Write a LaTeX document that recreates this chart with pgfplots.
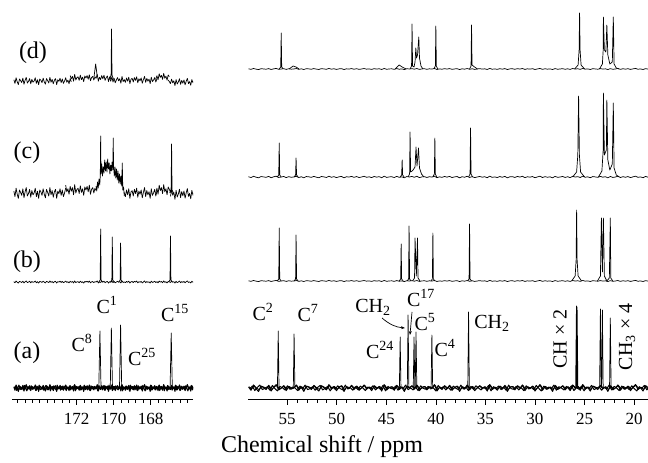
\documentclass[border=0pt]{standalone}
\usepackage{fontspec}
\setmainfont{Liberation Serif}
\usepackage{pgfplots}
\pgfplotsset{compat=1.18}
\usepackage{pgfplotstable}
\usetikzlibrary{arrows.meta}

% unit noise, read off the baselines by eye
\pgfplotstableread[row sep=\\]{
n\\ 0.3\\ -0.6\\ 0.8\\ -0.2\\ -0.9\\ 0.5\\ 0.1\\ -0.4\\ 0.7\\ -0.8\\
0.2\\ 0.9\\ -0.5\\ -0.1\\ 0.6\\ -0.7\\ 0.4\\ -0.3\\ 0.0\\ 0.8\\
-0.6\\ 0.3\\ -0.9\\ 0.5\\ 0.2\\ -0.4\\ 0.7\\ -0.2\\ -0.8\\ 0.6\\
0.1\\ -0.5\\ 0.9\\ -0.3\\ 0.4\\ -0.7\\ 0.2\\ 0.6\\ -0.9\\ 0.3\\
-0.1\\ 0.7\\ -0.4\\ 0.5\\ -0.6\\ 0.0\\ 0.8\\ -0.3\\ 0.2\\ -0.7\\
0.6\\ -0.2\\ 0.4\\ -0.8\\ 0.9\\ -0.5\\ 0.1\\ 0.3\\ -0.6\\ 0.7\\
-0.4\\ 0.2\\ -0.9\\ 0.5\\ 0.0\\ 0.6\\ -0.3\\ 0.8\\ -0.7\\ 0.1\\
0.4\\ -0.5\\ 0.3\\ -0.1\\ 0.9\\ -0.8\\ 0.2\\ -0.4\\ 0.6\\ -0.2\\
0.7\\ -0.6\\ 0.1\\ 0.5\\ -0.9\\ 0.3\\ -0.3\\ 0.8\\ -0.5\\ 0.4\\
-0.7\\ 0.0\\ 0.6\\ -0.2\\ 0.3\\ -0.8\\ 0.9\\ -0.4\\ 0.1\\ -0.6\\
0.5\\ -0.3\\ 0.7\\ -0.9\\ 0.2\\ 0.4\\ -0.5\\ 0.6\\ -0.1\\ 0.8\\
-0.7\\ 0.3\\ -0.2\\ 0.5\\ -0.8\\ 0.1\\ 0.9\\ -0.6\\ 0.4\\ -0.3\\
0.2\\ -0.9\\ 0.7\\ -0.4\\ 0.0\\ 0.6\\ -0.5\\ 0.3\\ -0.7\\ 0.8\\
-0.1\\ 0.4\\ -0.6\\ 0.9\\ -0.3\\ 0.2\\ -0.8\\ 0.5\\ 0.1\\ -0.4\\
0.7\\ -0.2\\ 0.3\\ -0.9\\ 0.6\\ -0.5\\ 0.0\\ 0.8\\ -0.6\\ 0.4\\
-0.3\\ 0.5\\ -0.7\\ 0.2\\ 0.9\\ -0.4\\ 0.1\\ -0.8\\ 0.6\\ -0.2\\
0.4\\ -0.5\\
}\noise

\pgfplotsset{
  spec/.style={black, line width=0.7pt, line join=round, unbounded coords=jump},
  nmr/.style={
    scale only axis, height=395pt, ymin=0, ymax=395,
    x dir=reverse, axis x line*=bottom, axis y line=none,
    axis line style={line width=1pt},
    tick align=outside, major tick length=5pt, minor tick length=3pt,
    tick style={black, line width=0.7pt},
    /pgf/number format/assume math mode=true,
    tick label style={font=\fontsize{17}{17}\selectfont},
    xticklabel style={yshift=-7pt, inner sep=1pt},
  },
}
\newcommand\lab{\fontsize{20}{20}\selectfont}
% noise traces: [options]{x start}{baseline}{amplitude}
\newcommand\Lnoise[4][]{\addplot[spec,#1] table[x index=0, y index=0,
  x expr=#2-0.061*\coordindex, y expr=#3+#4*(\thisrow{n})] {\noise};}
\newcommand\Rnoise[4][]{\addplot[spec,#1] table[x index=0, y index=0,
  x expr=#2-0.2535*\coordindex, y expr=#3+#4*(\thisrow{n})] {\noise};}

\begin{document}
\begin{tikzpicture}[x=1pt,y=1pt]
\path[use as bounding box] (0,0) rectangle (648,463);

% ---------------- carbonyl region ----------------
\begin{axis}[nmr, at={(12pt,63pt)}, anchor=south west, width=181pt,
  xmin=165.7, xmax=175.5, xtick={168,170,172},
  minor xtick={166.0,166.4,...,175.3}]
% (a)
\Lnoise[line width=1pt]{175.4}{12}{3.8}
\Lnoise[line width=1pt]{175.37}{12}{-3.2}
\Lnoise[line width=0.8pt]{175.385}{12.5}{2.5}
\addplot[spec] coordinates {(170.80,12)(170.74,69)(170.68,12)(170.6,nan)
  (170.18,12)(170.12,72)(170.06,12)(170.0,nan)
  (169.68,12)(169.62,75)(169.56,12)(169.5,nan)
  (166.94,12)(166.88,67)(166.82,12)};
% (b)
\Lnoise{175.4}{118}{1.2}
\addplot[spec] coordinates {(170.80,118)(170.725,120)(170.70,171)(170.675,120)(170.60,118)(170.6,nan)
  (170.17,118)(170.095,120)(170.07,163)(170.045,120)(169.97,118)(169.9,nan)
  (169.72,118)(169.645,120)(169.62,157)(169.595,120)(169.52,118)(169.5,nan)
  (167.02,118)(166.945,120)(166.92,164)(166.895,120)(166.82,118)};
% (c)
\Lnoise[restrict x to domain=172.55:176]{175.4}{207}{6}
\Lnoise[restrict x to domain=170.9:172.65]{175.4}{210}{6}
\addplot[spec] coordinates {(170.95,214)(170.91,209)(170.87,218)(170.83,212)
  (170.79,221)(170.75,215)(170.72,224)(170.70,264)(170.68,226)(170.64,236)
  (170.60,224)(170.56,233)(170.52,227)(170.48,240)(170.44,229)(170.40,238)
  (170.36,228)(170.32,241)(170.28,231)(170.24,237)(170.20,226)(170.16,235)
  (170.12,229)(170.08,238)(170.04,230)(170.02,262)(170.00,234)(169.96,224)
  (169.92,233)(169.88,222)(169.84,231)(169.80,220)(169.76,229)(169.72,217)
  (169.68,226)(169.64,216)(169.60,224)(169.56,214)(169.53,237)(169.50,210)
  (169.46,213)(169.42,204)};
\Lnoise[restrict x to domain=167.65:169.45]{175.4}{207}{6}
\Lnoise[restrict x to domain=166.85:167.75]{175.4}{210}{6}
\Lnoise[restrict x to domain=165:166.95]{175.4}{206}{6}
\addplot[spec] coordinates {(166.96,207)(166.885,210)(166.86,256)(166.835,210)(166.76,207)};
% (d)
\Lnoise[restrict x to domain=172.25:176]{175.4}{319}{4}
\Lnoise[restrict x to domain=170.15:172.35]{175.4}{322}{4}
\Lnoise[restrict x to domain=167.65:170.25]{175.4}{320}{4}
\Lnoise[restrict x to domain=166.95:167.75]{175.4}{323}{4}
\Lnoise[restrict x to domain=165:167.05]{175.4}{318}{4}
\addplot[spec] coordinates {(170.21,321)(170.135,325)(170.11,371)(170.085,325)(170.01,321)(170.0,nan)
  (171.06,323)(170.97,336)(170.88,323)};
\end{axis}

% ---------------- aliphatic region ----------------
\begin{axis}[nmr, at={(248pt,63pt)}, anchor=south west, width=400pt,
  xmin=18.6, xmax=58.95, xtick={20,25,...,55}, minor tick num=4]
% (a)
\Rnoise[line width=1pt]{58.9}{12}{3.8}
\Rnoise[line width=1pt]{58.77}{12}{-3.2}
\Rnoise[line width=0.8pt]{58.835}{12.5}{2.5}
\addplot[spec] coordinates {(55.98,12)(55.9,69)(55.82,12)(55.8,nan)
  (54.38,12)(54.3,66)(54.22,12)(54.2,nan)
  (43.68,12)(43.6,63)(43.52,12)(43.5,nan)
  (42.88,12)(42.8,85)(42.72,12)(42.7,nan)
  (42.28,12)(42.2,63)(42.12,12)(42.1,nan)
  (42.08,12)(42.0,68)(41.92,12)(41.9,nan)
  (40.48,12)(40.4,65)(40.32,12)(40.3,nan)
  (36.78,12)(36.7,88)(36.62,12)(36.6,nan)
  (25.9,12)(25.82,94)(25.74,12)(25.7,nan)
  (25.83,12)(25.75,93)(25.67,12)(25.6,nan)
  (23.48,12)(23.4,91)(23.32,12)(23.3,nan)
  (23.28,12)(23.2,90)(23.12,12)(23.1,nan)
  (22.48,12)(22.4,82)(22.32,12)};
% (b)
\Rnoise{58.9}{119}{0.6}
\addplot[spec] coordinates {(56.0,119)(55.85,121)(55.8,172)(55.75,121)(55.6,119)(55.6,nan)
  (54.3,119)(54.15,121)(54.1,165)(54.05,121)(53.9,119)(53.9,nan)
  (43.7,119)(43.55,121)(43.5,156)(43.45,121)(43.3,119)(43.3,nan)
  (42.9,119)(42.75,121)(42.7,174)(42.65,121)(42.5,119)(42.5,nan)
  (42.35,119)(42.15,122)(42.1,162)(41.97,124)(41.85,162)(41.8,122)(41.6,119)(41.6,nan)
  (40.5,119)(40.35,121)(40.3,167)(40.25,121)(40.1,119)(40.1,nan)
  (36.8,119)(36.65,121)(36.6,176)(36.55,121)(36.4,119)(36.4,nan)
  (26.3,119)(25.95,124)(25.85,140)(25.8,190)(25.75,140)(25.65,124)(25.3,119)(25.3,nan)
  (23.7,119)(23.4,124)(23.3,182)(23.2,128)(23.1,182)(23.0,124)(22.75,119)
  (22.5,122)(22.4,182)(22.35,122)(22.15,119)};
% (c)
\Rnoise{58.9}{223}{0.9}
\addplot[spec] coordinates {(56.0,223)(55.85,225)(55.8,257)(55.75,225)(55.6,223)(55.6,nan)
  (54.3,223)(54.15,225)(54.1,242)(54.05,225)(53.9,223)(53.9,nan)
  (43.6,223)(43.45,225)(43.4,240)(43.35,225)(43.2,223)(43.2,nan)
  (42.8,223)(42.65,226)(42.6,268)(42.55,228)(42.4,229)(42.3,230)(42.1,233)
  (42.0,253)(41.9,234)(41.75,252)(41.65,232)(41.45,226)(41.2,223)(41.2,nan)
  (40.3,223)(40.15,226)(40.1,262)(40.05,226)(39.9,223)(39.9,nan)
  (36.7,223)(36.55,226)(36.5,272)(36.45,226)(36.3,223)(36.3,nan)
  (26.2,223)(25.8,228)(25.68,245)(25.6,304)(25.52,245)(25.4,228)(25.0,223)(25.0,nan)
  (23.6,223)(23.25,229)(23.12,250)(23.1,307)(23.0,245)(22.8,250)(22.75,300)
  (22.65,240)(22.45,230)(22.2,236)(22.1,297)(22.02,232)(21.8,225)(21.5,223)};
% (d)
\Rnoise{58.9}{331}{0.6}
\addplot[spec] coordinates {(55.8,331)(55.65,333)(55.6,367)(55.55,333)(55.4,331)(55.4,nan)
  (54.8,331)(54.4,334)(54.1,333)(53.8,331)(53.8,nan)
  (44.1,331)(43.7,335)(43.4,333)(43.0,331)(43.0,nan)
  (42.6,331)(42.45,334)(42.4,376)(42.35,334)(42.2,333)(42.1,338)(42.02,352)
  (41.95,342)(41.85,345)(41.72,363)(41.65,342)(41.5,334)(41.3,331)(41.3,nan)
  (40.2,331)(40.05,334)(40.0,374)(39.95,334)(39.8,331)(39.8,nan)
  (36.6,331)(36.45,334)(36.4,375)(36.35,335)(36.1,333)(35.8,331)(35.8,nan)
  (26.0,331)(25.65,335)(25.55,350)(25.5,387)(25.45,350)(25.35,335)(25.0,331)(25.0,nan)
  (23.5,331)(23.2,336)(23.12,350)(23.1,383)(23.0,350)(22.85,348)(22.75,375)
  (22.65,345)(22.45,336)(22.2,338)(22.1,383)(22.02,336)(21.8,332)(21.5,331)};
\end{axis}

% trace labels
\begin{scope}[font=\fontsize{24}{24}\selectfont]
\node at (33,410) {(d)};
\node at (27,310) {(c)};
\node at (27,201) {(b)};
\node at (27,110) {(a)};
\end{scope}

% assignments
\begin{scope}[font=\lab, inner sep=0pt]
\node at (107,158) {C\textsuperscript{1}};
\node at (175,150) {C\textsuperscript{15}};
\node at (82,120) {C\textsuperscript{8}};
\node at (142,106) {C\textsuperscript{25}};
\node at (263,151) {C\textsuperscript{2}};
\node at (308,150) {C\textsuperscript{7}};
\node at (373,156) {CH\textsubscript{2}};
\node at (421,165) {C\textsuperscript{17}};
\node at (425,141) {C\textsuperscript{5}};
\node at (380,113) {C\textsuperscript{24}};
\node at (445,115) {C\textsuperscript{4}};
\node at (492,140) {CH\textsubscript{2}};
\node[rotate=90] at (560,124) {CH × 2};
\node[rotate=90] at (627,126) {CH\textsubscript{3} × 4};
\end{scope}
\draw[-{Stealth[length=4pt]}, line width=0.7pt] (382,145) to[out=-40,in=175] (405,135);
\draw[-{Stealth[length=4pt]}, line width=0.7pt] (412,151) -- (410,128);

\node[font=\fontsize{24}{24}\selectfont, inner sep=0pt] at (322,16) {Chemical shift / ppm};
\end{tikzpicture}
\end{document}
